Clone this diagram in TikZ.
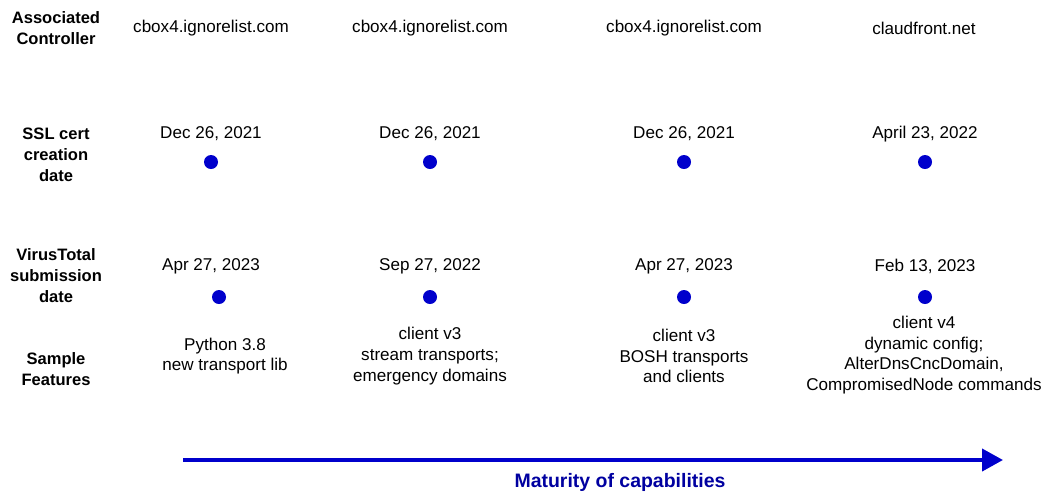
\documentclass[tikz,border=0pt]{standalone}
\usepackage{fontspec}
\setmainfont{Liberation Sans}
\usetikzlibrary{arrows.meta}
\definecolor{dotblue}{RGB}{0,0,204}
\definecolor{navyblue}{RGB}{0,0,160}
\begin{document}
\begin{tikzpicture}[x=0.75pt,y=-0.75pt,
  txt/.style={inner sep=0pt,align=center,font=\fontsize{12.8}{15.5}\selectfont},
  rowlabel/.style={inner sep=0pt,align=center,font=\fontsize{12.4}{15.75}\selectfont\bfseries},
  dot/.style={circle,fill=dotblue,inner sep=0pt,minimum size=10.5pt}]
\useasboundingbox (0,0) rectangle (1049,494);

% row labels
\node[rowlabel] (lctrl) at (56,28) {Associated\\Controller};
\node[rowlabel] (lssl) at (56,155) {SSL cert\\creation\\date};
\node[rowlabel] (lvt) at (56,276) {VirusTotal\\submission\\date};
\node[rowlabel] (lfeat) at (56,369) {Sample\\Features};

% controllers
\node[txt] (c1) at (211,28) {cbox4.ignorelist.com};
\node[txt] (c2) at (430,28) {cbox4.ignorelist.com};
\node[txt] (c3) at (684,28) {cbox4.ignorelist.com};
\node[txt] (c4) at (924,28) {claudfront.net};

% certificate dates
\node[txt] (s1) at (211,134) {Dec 26, 2021};
\node[txt] (s2) at (430,134) {Dec 26, 2021};
\node[txt] (s3) at (684,134) {Dec 26, 2021};
\node[txt] (s4) at (925,134) {April 23, 2022};
\node[dot] (sd1) at (211,162) {};
\node[dot] (sd2) at (430,162) {};
\node[dot] (sd3) at (684,162) {};
\node[dot] (sd4) at (925,162) {};

% submission dates
\node[txt] (v1) at (211,266) {Apr 27, 2023};
\node[txt] (v2) at (430,266) {Sep 27, 2022};
\node[txt] (v3) at (684,266) {Apr 27, 2023};
\node[txt] (v4) at (925,266) {Feb 13, 2023};
\node[dot] (vd1) at (219,297) {};
\node[dot] (vd2) at (430,297) {};
\node[dot] (vd3) at (684,297) {};
\node[dot] (vd4) at (925,297) {};

% sample features
\node[txt] (f1) at (225,356) {Python 3.8\\new transport lib};
\node[txt] (f2) at (430,356) {client v3\\stream transports;\\emergency domains};
\node[txt] (f3) at (684,356) {client v3\\BOSH transports\\and clients};
\node[txt] (f4) at (924,355) {client v4\\dynamic config;\\AlterDnsCncDomain,\\CompromisedNode commands};

% maturity axis
\coordinate (axS) at (183,460);
\coordinate (axE) at (1003,460);
\draw[dotblue,line width=3pt,-{Triangle[length=15.75pt,width=16.5pt]}] (axS) -- (axE);
\node[inner sep=0pt,text=navyblue,font=\fontsize{14.6}{17}\selectfont\bfseries] (mat) at (620,482) {Maturity of capabilities};
\end{tikzpicture}
\end{document}
